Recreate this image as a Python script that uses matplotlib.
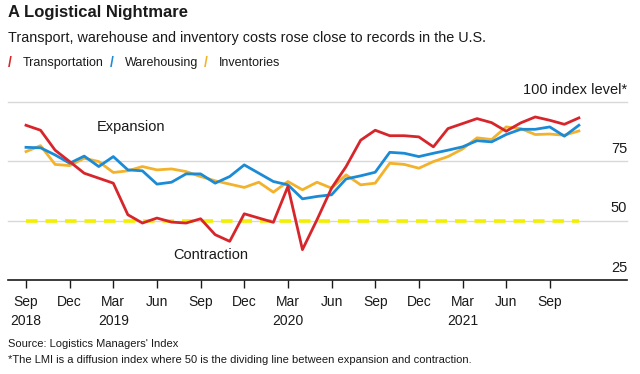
import numpy as np
import matplotlib
matplotlib.use("Agg")
import matplotlib.pyplot as plt

plt.rcParams['font.family'] = ['Liberation Sans', 'DejaVu Sans']

# monthly LMI readings, Sep 2018 .. Nov 2021
transportation = [90.2, 88.1, 79.7, 74.9, 70.0, 67.9, 65.8, 52.5, 49.0, 51.1,
                  49.4, 49.0, 50.8, 44.1, 41.3, 52.9, 51.1, 49.3, 64.4, 37.8,
                  50.4, 63.7, 72.8, 83.9, 88.1, 85.8, 85.8, 85.3, 81.1, 88.8,
                  90.9, 93.0, 91.3, 87.7, 91.2, 93.7, 92.3, 90.6, 93.3]
warehousing = [80.9, 80.7, 77.7, 74.2, 77.2, 72.8, 77.0, 71.4, 71.0, 65.4,
               66.2, 69.7, 69.7, 65.8, 68.6, 73.5, 70.0, 66.5, 65.1, 59.2,
               60.2, 60.9, 67.6, 68.9, 70.4, 78.8, 78.4, 77.0, 78.4, 79.7,
               81.1, 83.7, 83.2, 86.3, 88.5, 88.5, 89.5, 85.6, 90.2]
inventories = [79.1, 81.6, 73.7, 73.2, 76.3, 74.9, 70.3, 71.0, 72.8, 71.4,
               71.8, 70.7, 68.6, 66.8, 65.4, 64.0, 66.2, 62.0, 66.5, 63.0,
               66.2, 63.7, 69.3, 65.1, 65.8, 74.2, 73.7, 72.1, 74.9, 77.0,
               80.2, 84.9, 84.2, 89.5, 88.8, 86.3, 86.5, 86.0, 87.8]
tick_labels = ["Sep\n2018", "Dec", "Mar\n2019", "Jun", "Sep", "Dec", "Mar\n2020",
               "Jun", "Sep", "Dec", "Mar\n2021", "Jun", "Sep"]
y_labels = {100: "100 index level*", 75: "75", 50: "50", 25: "25"}

red = "#d7262b"
blue = "#1b8bd6"
orange = "#f3b22b"
yellow = "#f2f000"
ink = "#1a1a1a"

W, H = 640, 374
fig = plt.figure(figsize=(W / 100, H / 100), dpi=100)

# axes placed in pixel terms: baseline y=280, 100-line y=102, x from 8 to 627
left, right, top, bottom = 8, 627, 102, 280
ax = fig.add_axes([left / W, 1 - bottom / H, (right - left) / W, (bottom - top) / H])
x0, dx = 26, 14.55
ax.set_xlim((left - x0) / dx, (right - x0) / dx)
ax.set_ylim(25, 100)

x = np.arange(len(transportation))

for g in (50, 75, 100):
    ax.axhline(g, color="#d8d8d8", lw=1.0, zorder=1, clip_on=False)
ax.plot([x[0], x[-1]], [50, 50], color=yellow, lw=2.6, dashes=(3.2, 2.2), zorder=2)

ax.plot(x, inventories, color=orange, lw=2.0, zorder=3, clip_on=False)
ax.plot(x, warehousing, color=blue, lw=2.0, zorder=4, clip_on=False)
ax.plot(x, transportation, color=red, lw=2.0, zorder=5, clip_on=False)

for v, s in y_labels.items():
    ax.text(ax.get_xlim()[1], v + 2.3, s, ha="right", va="bottom",
            fontsize=10.5, color=ink)

ax.text(4.85, 89.5, "Expansion", fontsize=10.5, color=ink, va="center")
ax.text(10.1, 35.5, "Contraction", fontsize=10.5, color=ink, va="center")

for s in ("top", "right", "left"):
    ax.spines[s].set_visible(False)
ax.spines["bottom"].set_color(ink)
ax.spines["bottom"].set_linewidth(1.2)
ax.set_yticks([])
ax.set_xticks(np.arange(0, 37, 3))
ax.set_xticklabels(tick_labels, fontsize=10, color=ink, linespacing=1.4)
ax.tick_params(axis="x", length=6, width=1, color=ink, pad=5, direction="out")

# headline, subtitle and legend
fig.text(8 / W, 1 - 13 / H, "A Logistical Nightmare", fontsize=12, fontweight="bold",
         color=ink, va="center")
fig.text(8 / W, 1 - 38 / H, "Transport, warehouse and inventory costs rose close to records in the U.S.",
         fontsize=10.4, color=ink, va="center")
legend_items = [("Transportation", red, 8), ("Warehousing", blue, 110), ("Inventories", orange, 204)]
for name, col, px in legend_items:
    fig.text(px / W, 1 - 63 / H, "/", fontsize=10, color=col, va="center", fontweight="bold")
    fig.text((px + 15) / W, 1 - 63 / H, name, fontsize=9, color=ink, va="center")

fig.text(8 / W, 1 - 344 / H, "Source: Logistics Managers' Index", fontsize=8.0, color=ink, va="center")
fig.text(8 / W, 1 - 360 / H,
         "*The LMI is a diffusion index where 50 is the dividing line between expansion and contraction.",
         fontsize=8.0, color=ink, va="center")

fig.savefig("out.png", dpi=100)
